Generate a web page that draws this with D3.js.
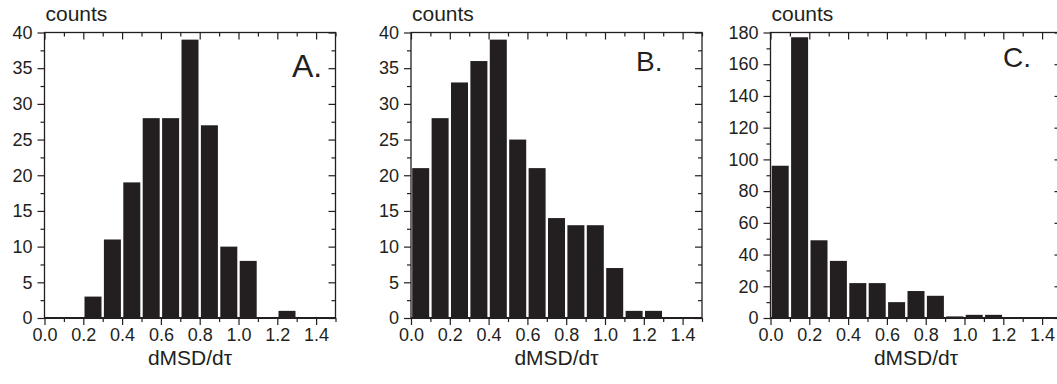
<!DOCTYPE html>
<html>
<head>
<meta charset="utf-8">
<script src="https://cdn.jsdelivr.net/npm/d3@7"></script>
<style>
  body { margin: 0; background: #fff; }
  svg { display: block; font-family: 'Liberation Sans', Arial, Helvetica, sans-serif; }
</style>
</head>
<body>
<script>
// histogram bins (left edges, width 0.1)
const binStarts = [0.0, 0.1, 0.2, 0.3, 0.4, 0.5, 0.6, 0.7, 0.8, 0.9, 1.0, 1.1, 1.2, 1.3, 1.4]
const countsA = [0, 0, 3, 11, 19, 28, 28, 39, 27, 10, 8, 0, 1, 0, 0]
const countsB = [21, 28, 33, 36, 39, 25, 21, 14, 13, 13, 7, 1, 1, 0, 0]
const countsC = [96, 177, 49, 36, 22, 22, 10, 17, 14, 1, 2, 2, 0, 0, 0]

const xTicks = [0.0, 0.2, 0.4, 0.6, 0.8, 1.0, 1.2, 1.4]
const xMinorTicks = [0.1, 0.3, 0.5, 0.7, 0.9, 1.1, 1.3, 1.5]
const yTicksAB = [0, 5, 10, 15, 20, 25, 30, 35, 40]
const yTicksC = [0, 20, 40, 60, 80, 100, 120, 140, 160, 180]

const panelLabels = ['A.', 'B.', 'C.']
const yLabel = 'counts'
const xLabel = 'dMSD/d\u03c4'

const INK = '#231f20'
const BIN_WIDTH = 0.1

class Histogram {
  constructor (svg, box) {
    this.svg = svg
    this.box = box
    this.counts = null
    this.yTicks = null
    this.g = null

    this.xScale = d3.scaleLinear().domain([0, 1.5]).range([box.left, box.right])
    this.yScale = d3.scaleLinear().range([box.bottom, box.top])
  }

  setData (counts, yTicks) {
    this.counts = counts
    this.yTicks = yTicks
    this.yScale.domain([0, yTicks[yTicks.length - 1]])
    return this
  }

  defineGroup () {
    this.g = this.svg.append('g').attr('class', 'panel')
    return this
  }

  drawMarks () {
    const x = this.xScale
    const y = this.yScale
    const inset = 1.2

    this.g.append('g')
      .attr('class', 'bars')
      .selectAll('rect')
      .data(binStarts.map((b, i) => ({ x0: b, count: this.counts[i] })))
      .join('rect')
      .attr('x', d => x(d.x0) + inset)
      .attr('width', d => x(d.x0 + BIN_WIDTH) - x(d.x0) - 2 * inset)
      .attr('y', d => y(d.count))
      .attr('height', d => y(0) - y(d.count))
      .attr('fill', INK)

    return this
  }

  styleAxis (sel) {
    sel.select('.domain').remove()
    sel.selectAll('line').attr('stroke', INK).attr('stroke-width', 1.2)
    sel.selectAll('text').attr('fill', INK).style('font-size', '18px')
  }

  drawAxis () {
    const x = this.xScale
    const y = this.yScale
    const { left, right, top, bottom } = this.box
    const yMinor = d3.pairs(this.yTicks).map(([a, b]) => (a + b) / 2)

    // bottom: ticks out, labelled
    this.g.append('g')
      .attr('transform', `translate(0,${bottom})`)
      .call(d3.axisBottom(x).tickValues(xTicks).tickSize(7).tickPadding(3).tickFormat(d3.format('.1f')))
      .call(s => this.styleAxis(s))
    this.g.append('g')
      .attr('transform', `translate(0,${bottom})`)
      .call(d3.axisBottom(x).tickValues(xMinorTicks).tickSize(4).tickFormat(''))
      .call(s => this.styleAxis(s))

    // top: ticks in, no labels
    this.g.append('g')
      .attr('transform', `translate(0,${top})`)
      .call(d3.axisTop(x).tickValues(xTicks).tickSize(-7).tickFormat(''))
      .call(s => this.styleAxis(s))
    this.g.append('g')
      .attr('transform', `translate(0,${top})`)
      .call(d3.axisTop(x).tickValues(xMinorTicks).tickSize(-4).tickFormat(''))
      .call(s => this.styleAxis(s))

    // left: ticks out, labelled
    this.g.append('g')
      .attr('transform', `translate(${left},0)`)
      .call(d3.axisLeft(y).tickValues(this.yTicks).tickSize(7).tickPadding(5).tickFormat(d3.format('d')))
      .call(s => this.styleAxis(s))
    this.g.append('g')
      .attr('transform', `translate(${left},0)`)
      .call(d3.axisLeft(y).tickValues(yMinor).tickSize(4).tickFormat(''))
      .call(s => this.styleAxis(s))

    // right: ticks in
    this.g.append('g')
      .attr('transform', `translate(${right},0)`)
      .call(d3.axisRight(y).tickValues(this.yTicks).tickSize(-7).tickFormat(''))
      .call(s => this.styleAxis(s))
    this.g.append('g')
      .attr('transform', `translate(${right},0)`)
      .call(d3.axisRight(y).tickValues(yMinor).tickSize(-4).tickFormat(''))
      .call(s => this.styleAxis(s))

    // frame
    this.g.append('rect')
      .attr('x', left).attr('y', top)
      .attr('width', right - left).attr('height', bottom - top)
      .attr('fill', 'none')
      .attr('stroke', INK)
      .attr('stroke-width', 1.3)
    this.g.append('line')
      .attr('x1', left).attr('x2', right)
      .attr('y1', bottom).attr('y2', bottom)
      .attr('stroke', INK)
      .attr('stroke-width', 2)

    return this
  }

  drawLabels (letter, letterPos) {
    const { left, right } = this.box

    this.g.append('text')
      .attr('x', left + 1).attr('y', 21)
      .attr('fill', INK)
      .style('font-size', '21px')
      .text(yLabel)

    this.g.append('text')
      .attr('x', (left + right) / 2).attr('y', 365)
      .attr('text-anchor', 'middle')
      .attr('fill', INK)
      .style('font-size', '21px')
      .text(xLabel)

    this.g.append('text')
      .attr('x', right - letterPos.dx).attr('y', letterPos.y)
      .attr('fill', INK)
      .style('font-size', letterPos.size + 'px')
      .text(letter)

    return this
  }
}

const svg = d3.select('body').append('svg')
  .attr('width', 1057)
  .attr('height', 384)

svg.append('rect').attr('width', 1057).attr('height', 384).attr('fill', '#fff')

const TOP = 32.5
const BOTTOM = 318
const panels = [
  { left: 44.5, right: 335.5, counts: countsA, yTicks: yTicksAB, letter: { dx: 43.5, y: 77, size: 32 } },
  { left: 411, right: 702, counts: countsB, yTicks: yTicksAB, letter: { dx: 66, y: 70.5, size: 28 } },
  { left: 770.5, right: 1061.5, counts: countsC, yTicks: yTicksC, letter: { dx: 58.5, y: 67, size: 28 } },
]

panels.forEach((p, i) => {
  new Histogram(svg, { left: p.left, right: p.right, top: TOP, bottom: BOTTOM })
    .setData(p.counts, p.yTicks)
    .defineGroup()
    .drawMarks()
    .drawAxis()
    .drawLabels(panelLabels[i], p.letter)
})
</script>
</body>
</html>
